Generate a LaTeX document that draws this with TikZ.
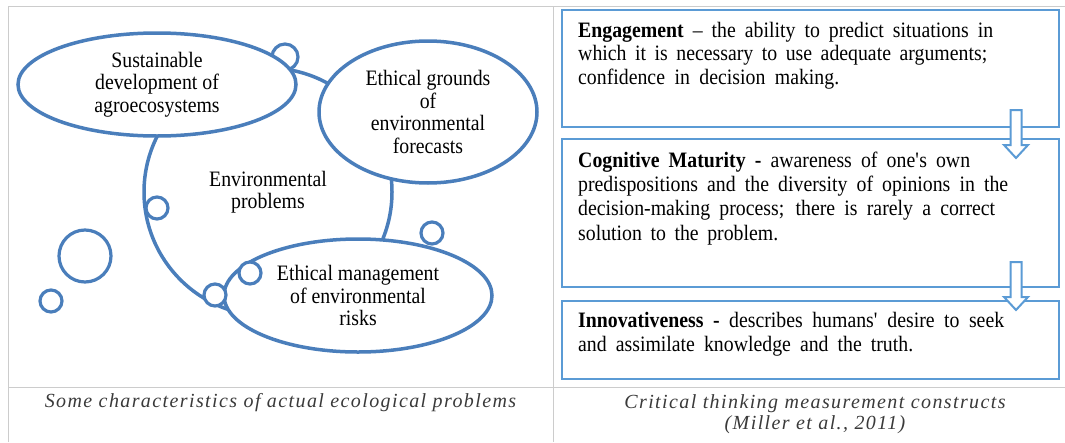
\documentclass[tikz,border=0pt]{standalone}
\usepackage{fontspec}
\setmainfont{Liberation Serif}[FakeStretch=0.9]
\newfontfamily\capfont{Liberation Serif}[LetterSpace=7]
\usetikzlibrary{shapes.geometric}
\definecolor{ellblue}{HTML}{4A7EBB}
\definecolor{boxblue}{HTML}{5B9BD5}
\definecolor{gridgray}{HTML}{CCCCCC}
\definecolor{capgray}{HTML}{3A3A3A}
\begin{document}
\begin{tikzpicture}[x=1pt,y=-1pt,
  ell/.style={ellipse, draw=ellblue, line width=3.5pt, fill=white, inner sep=0pt, align=center, font=\fontsize{22}{22.5}\selectfont},
  bub/.style={circle, draw=ellblue, line width=3.2pt, fill=white, inner sep=0pt},
  cbox/.style={rectangle, draw=boxblue, line width=2.5pt, inner sep=0pt, minimum width=497pt},
  ln/.style={anchor=base west, inner sep=0pt, font=\fontsize{22}{24}\selectfont},
  captxt/.style={anchor=base, inner sep=0pt, text=capgray, font=\capfont\itshape\fontsize{20}{24}\selectfont},
  harrow/.style={draw=boxblue, line width=2pt, fill=white, line join=miter},
  gridline/.style={draw=gridgray, line width=1pt}]
\path[use as bounding box] (0,0) rectangle (1065,442);
% table lines
\draw[gridline] (8,442) -- (8,6) -- (1065,6);
\draw[gridline] (553,6) -- (553,442);
\draw[gridline] (8,387) -- (1065,387);
% central circle
\node[circle, draw=ellblue, line width=3.5pt, inner sep=0pt, minimum size=248pt, align=center, font=\fontsize{22}{22.5}\selectfont] (env) at (268,192) {Environmental\\problems};
\node[bub, minimum size=26pt] (bt) at (285,57) {};
% ellipses
\node[ell, minimum width=278pt, minimum height=103pt] (sus) at (157,84.5) {Sustainable\\development of\\agroecosystems};
\node[ell, minimum width=218pt, minimum height=142pt] (grd) at (428,112) {Ethical grounds\\of\\environmental\\forecasts};
\node[ell, minimum width=268pt, minimum height=113pt] (mgt) at (358,295.5) {Ethical management\\of environmental\\risks};
% bubbles
\node[bub, minimum size=22pt] (b1) at (157,208) {};
\node[bub, minimum size=22pt] (b2) at (215,295) {};
\node[bub, minimum size=22pt] (b3) at (250,273) {};
\node[bub, minimum size=22pt] (b4) at (432,233) {};
\node[bub, minimum size=52pt] (b5) at (85,256) {};
\node[bub, minimum size=22pt] (b6) at (51,301) {};
% right boxes
\node[cbox, minimum height=117pt] (bx1) at (810.5,68.5) {};
\node[cbox, minimum height=148pt] (bx2) at (810.5,213) {};
\node[cbox, minimum height=78pt] (bx3) at (810.5,340) {};
% hollow arrows
\draw[harrow] (1010.5,110) -- (1021.5,110) -- (1021.5,145) -- (1028,145) -- (1016,158) -- (1004,145) -- (1010.5,145) -- cycle;
\draw[harrow] (1010.5,262) -- (1021.5,262) -- (1021.5,297) -- (1028,297) -- (1016,310) -- (1004,297) -- (1010.5,297) -- cycle;
% box texts
\node[ln] (e1) at (578,37) {\makebox[415pt][s]{\textbf{Engagement} – the ability to predict situations in}};
\node[ln] (e2) at (578,60.5) {\makebox[409pt][s]{which it is necessary to use adequate arguments;}};
\node[ln] (e3) at (578,84) {\makebox[261pt][s]{confidence in decision making.}};
\node[ln] (c1) at (578,167) {\makebox[392pt][s]{\textbf{Cognitive Maturity -} awareness of one\textquotesingle s own}};
\node[ln] (c2) at (578,191) {\makebox[430pt][s]{predispositions and the diversity of opinions in the}};
\node[ln] (c3) at (578,215.5) {\makebox[417pt][s]{decision-making process; there is rarely a correct}};
\node[ln] (c4) at (578,240) {\makebox[200pt][s]{solution to the problem.}};
\node[ln] (i1) at (578,327) {\makebox[426pt][s]{\textbf{Innovativeness -} describes humans\textquotesingle{} desire to seek}};
\node[ln] (i2) at (578,351) {\makebox[335pt][s]{and assimilate knowledge and the truth.}};
% captions
\node[captxt] (capl) at (280.5,407) {Some characteristics of actual ecological problems};
\node[captxt] (capr1) at (815,408) {Critical thinking measurement constructs};
\node[captxt] (capr2) at (815,429) {(Miller et al., 2011)};
\end{tikzpicture}
\end{document}
